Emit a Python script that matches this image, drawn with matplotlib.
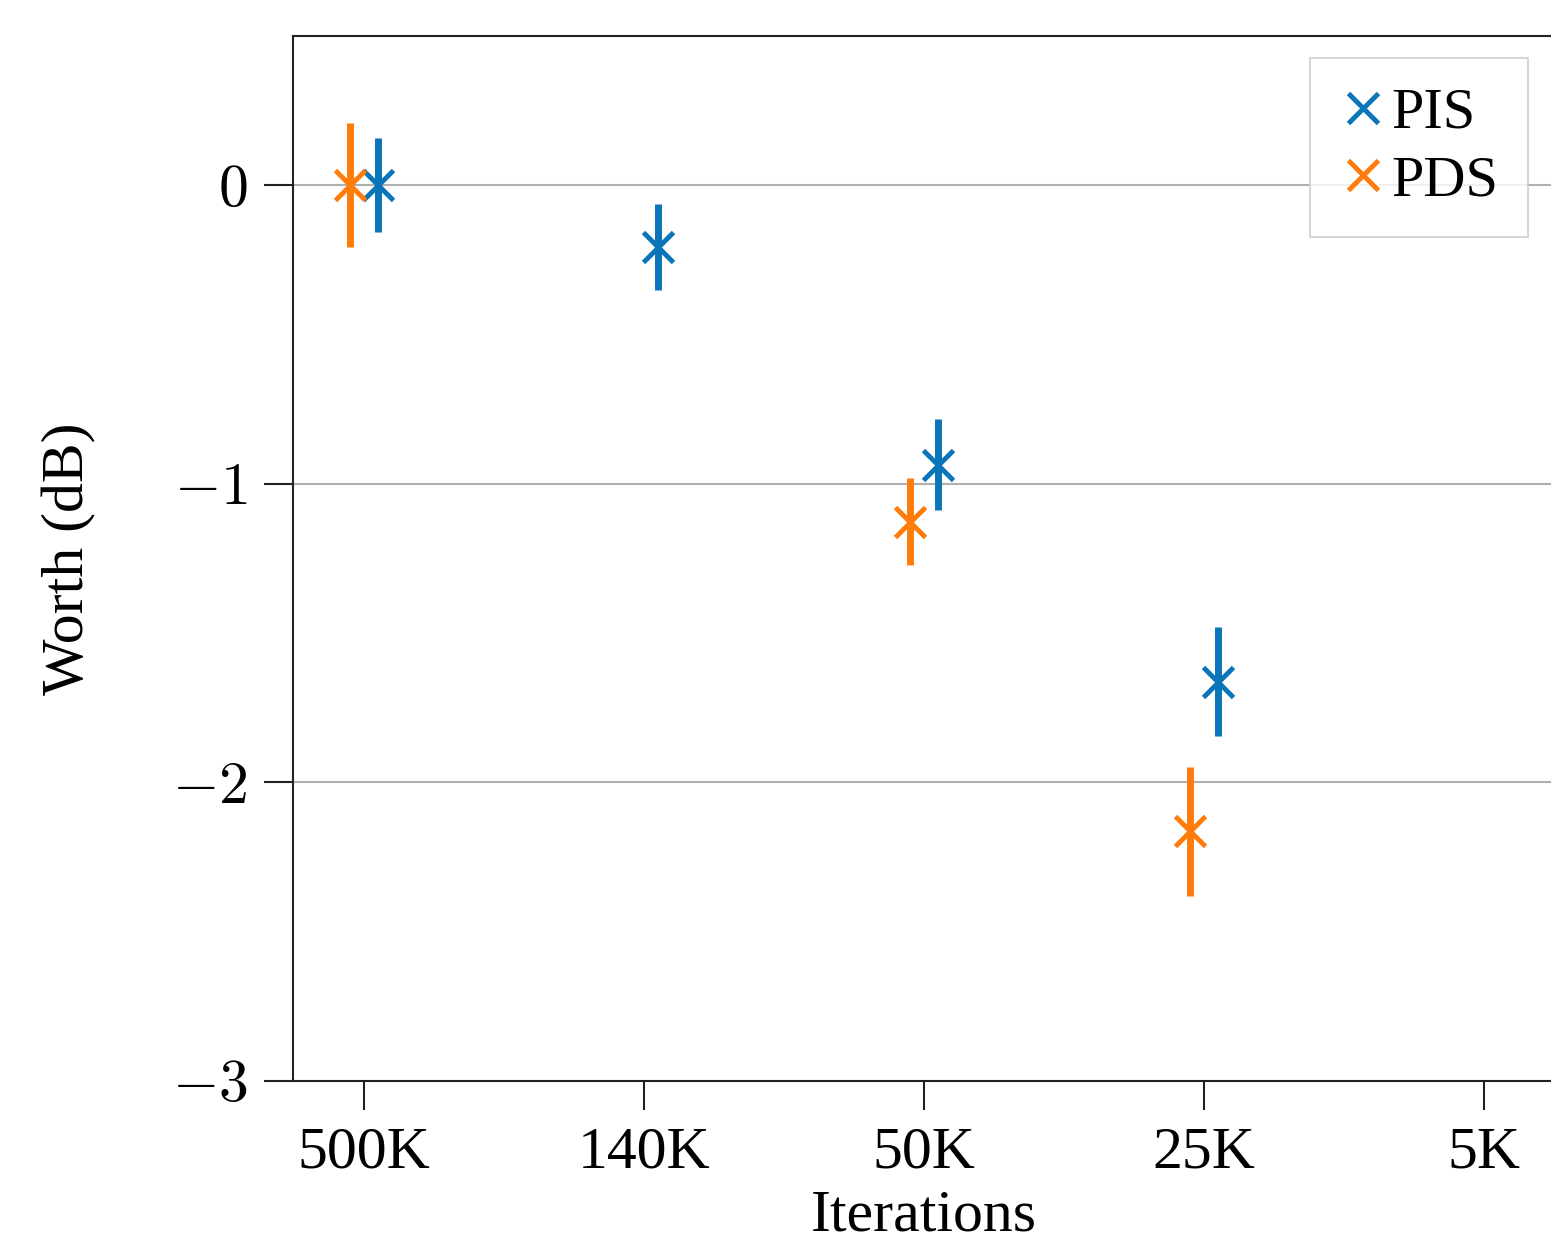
import matplotlib
matplotlib.use("Agg")
import matplotlib.pyplot as plt
import numpy as np

plt.rcParams['font.family'] = ['Liberation Serif', 'DejaVu Serif']
plt.rcParams['mathtext.fontset'] = 'cm'

iterations = ["500K", "140K", "50K", "25K", "5K"]
y_ticks = [-3, -2, -1, 0]
y_ticklabels = [r"$-3$", r"$-2$", r"$-1$", r"$0$"]

# PIS: measured at 500K, 140K, 50K, 25K
pis_idx = [0, 1, 2, 3]
pis_mean = [0.0, -0.207, -0.936, -1.662]
pis_err = [0.157, 0.145, 0.152, 0.184]

# PDS: measured at 500K, 50K, 25K
pds_idx = [0, 2, 3]
pds_mean = [0.0, -1.127, -2.164]
pds_err = [0.207, 0.145, 0.217]

blue = "#0a75b8"
orange = "#ff7b0a"

fig = plt.figure(figsize=(15.51, 12.43), dpi=100)
ax = fig.add_axes([293/1551, 1 - 1081/1243, (1554 - 293)/1551, (1081 - 36)/1243])

off = 0.05
ax.errorbar(np.array(pis_idx) + off, pis_mean, yerr=pis_err, fmt='x', color=blue,
            ms=21, mew=3.5, elinewidth=5, capsize=0, label="PIS", zorder=3)
ax.errorbar(np.array(pds_idx) - off, pds_mean, yerr=pds_err, fmt='x', color=orange,
            ms=21, mew=3.5, elinewidth=5, capsize=0, label="PDS", zorder=3)

ax.set_xlim(-0.254, 4.25)
ax.set_ylim(-3, 0.5)
ax.set_xticks(range(len(iterations)))
ax.set_xticklabels(iterations)
ax.set_yticks(y_ticks)
ax.set_yticklabels(y_ticklabels)
ax.yaxis.grid(True, color="#b0b0b0", lw=1.5)
ax.set_axisbelow(True)

for s in ax.spines.values():
    s.set_linewidth(1.5)
    s.set_color("#222222")
ax.tick_params(axis='both', direction='out', length=21, width=1.5, labelsize=43,
               pad=12, color="#222222")

ax.set_xlabel("Iterations", fontsize=43, labelpad=6)
ax.set_ylabel("Worth (dB)", fontsize=43, labelpad=54)

h, l = ax.get_legend_handles_labels()
h = [hh[0] for hh in h]
leg = ax.legend(h, l, loc='upper right', bbox_to_anchor=(1528/1551, 1 - 58/1243),
                bbox_transform=fig.transFigure, fontsize=42, frameon=True,
                fancybox=False, handlelength=0.8, handletextpad=0.1,
                borderpad=0.5, labelspacing=0.25, borderaxespad=0)
leg.get_frame().set_edgecolor("#cccccc")
leg.get_frame().set_linewidth(1.5)

fig.savefig("out.png", dpi=100)
